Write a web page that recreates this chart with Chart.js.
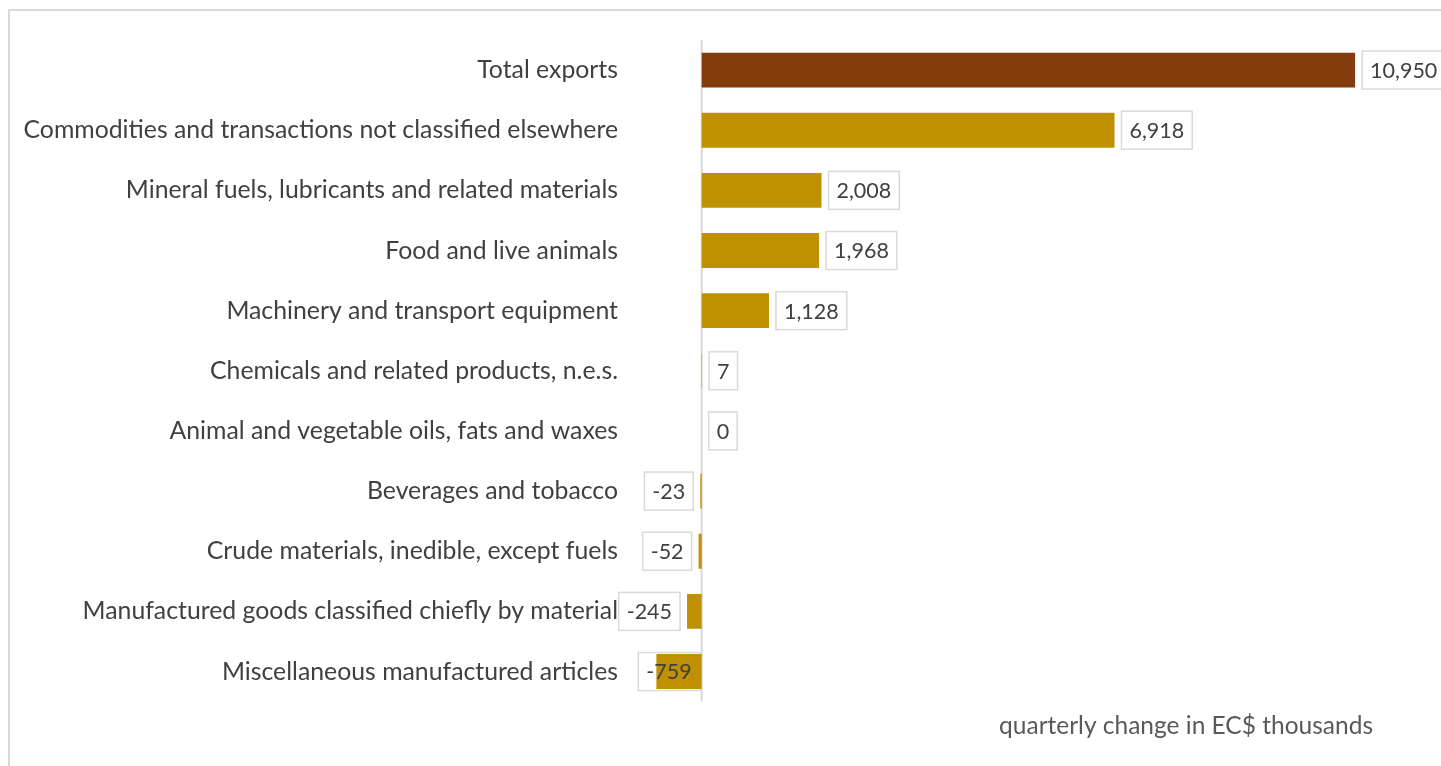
<!DOCTYPE html>
<html>
<head>
<meta charset="utf-8">
<title>Quarterly change in exports</title>
<script src="https://cdn.jsdelivr.net/npm/chart.js@4/dist/chart.umd.min.js"></script>
<style>
  html, body { margin: 0; padding: 0; background: #ffffff; }
  #wrap { position: relative; width: 1441px; height: 766px; }
</style>
</head>
<body>
<div id="wrap"><canvas id="exports-chart"></canvas></div>
<script>
// Change in exports by SITC section, quarter on quarter (EC$ thousands)

const categories = [
  "Total exports",
  "Commodities and transactions not classified elsewhere",
  "Mineral fuels, lubricants and related materials",
  "Food and live animals",
  "Machinery and transport equipment",
  "Chemicals and related products, n.e.s.",
  "Animal and vegetable oils, fats and waxes",
  "Beverages and tobacco",
  "Crude materials, inedible, except fuels",
  "Manufactured goods classified chiefly by material",
  "Miscellaneous manufactured articles",
];

const changes = [10950, 6918, 2008, 1968, 1128, 7, 0, -23, -52, -245, -759];

const axisTitle = "quarterly change in EC$ thousands";

const TOTAL_COLOR = "#843C0C";
const SECTION_COLOR = "#BF9000";
const GRID_GREY = "#D9D9D9";
const TEXT_DARK = "#404040";
const FONT = "Lato, 'Open Sans', sans-serif";
const LABEL_FONT = "21.5px " + FONT;

const barColors = categories.map((c, i) => (i === 0 ? TOTAL_COLOR : SECTION_COLOR));

// light frame around the chart, only top and left edges fall inside the canvas
const framePlugin = {
  id: "frame",
  beforeDraw(chart) {
    const ctx = chart.ctx;
    ctx.save();
    ctx.strokeStyle = GRID_GREY;
    ctx.lineWidth = 2;
    ctx.strokeRect(9, 10, chart.width + 20, chart.height + 20);
    ctx.restore();
  },
};

// where each value label box goes, next to the bar end
function labelBoxes(chart) {
  const ctx = chart.ctx;
  const area = chart.chartArea;
  const zero = chart.scales.x.getPixelForValue(0);
  ctx.save();
  ctx.font = LABEL_FONT;
  const boxes = chart.getDatasetMeta(0).data.map((bar, i) => {
    const v = changes[i];
    const txt = v.toLocaleString("en-US");
    const w = ctx.measureText(txt).width + 16;
    const h = 38;
    let left = v >= 0 ? bar.x + 7 : bar.x - 7 - w;
    // no room outside the bar end: put the label against the base instead
    if (left < area.left - 30) left = zero - 2 - w;
    return { txt, left, top: bar.y - h / 2, w, h, cy: bar.y };
  });
  ctx.restore();
  return boxes;
}

// zero line and label boxes go under the bars, label text goes over them
const valueLabels = {
  id: "valueLabels",
  beforeDatasetsDraw(chart) {
    const ctx = chart.ctx;
    const area = chart.chartArea;
    const zero = chart.scales.x.getPixelForValue(0);

    ctx.save();
    ctx.strokeStyle = GRID_GREY;
    ctx.lineWidth = 2;
    ctx.beginPath();
    ctx.moveTo(zero, area.top);
    ctx.lineTo(zero, area.bottom);
    ctx.stroke();

    labelBoxes(chart).forEach((b) => {
      ctx.fillStyle = "#ffffff";
      ctx.fillRect(b.left, b.top, b.w, b.h);
      ctx.strokeStyle = GRID_GREY;
      ctx.lineWidth = 1.5;
      ctx.strokeRect(b.left, b.top, b.w, b.h);
    });
    ctx.restore();
  },
  afterDatasetsDraw(chart) {
    const ctx = chart.ctx;
    ctx.save();
    ctx.font = LABEL_FONT;
    ctx.textAlign = "center";
    ctx.textBaseline = "middle";
    ctx.fillStyle = TEXT_DARK;
    labelBoxes(chart).forEach((b) => {
      ctx.fillText(b.txt, b.left + b.w / 2, b.cy + 1);
    });
    ctx.restore();
  },
};

const canvas = document.getElementById("exports-chart");

new Chart(canvas, {
  type: "bar",
  data: {
    labels: categories,
    datasets: [
      {
        data: changes,
        backgroundColor: barColors,
        borderWidth: 0,
        barPercentage: 0.58,
        categoryPercentage: 1,
      },
    ],
  },
  options: {
    indexAxis: "y",
    responsive: true,
    maintainAspectRatio: false,
    animation: false,
    layout: { padding: { left: 9, right: 68, top: 40, bottom: 21 } },
    plugins: {
      legend: { display: false },
      tooltip: { enabled: false },
    },
    scales: {
      x: {
        min: -1000,
        max: 11250,
        grid: { display: false, drawTicks: false },
        border: { display: false },
        ticks: { display: false },
        title: {
          display: true,
          text: axisTitle,
          align: "end",
          color: "#595959",
          font: { family: FONT, size: 24.5 },
          padding: { top: 10, bottom: 4 },
        },
      },
      y: {
        grid: { display: false, drawTicks: false, tickLength: 0 },
        border: { display: false },
        ticks: {
          color: TEXT_DARK,
          font: { family: FONT, size: 24.8 },
          padding: 24,
          autoSkip: false,
        },
        afterFit(scale) {
          scale.width = 633;
        },
      },
    },
  },
  plugins: [framePlugin, valueLabels],
});
</script>
</body>
</html>
